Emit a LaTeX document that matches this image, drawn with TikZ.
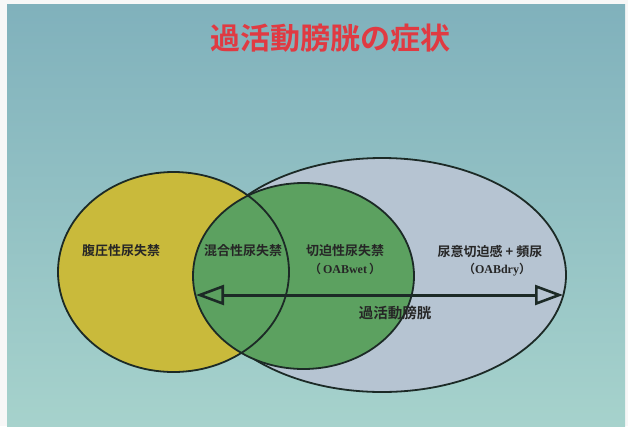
\documentclass[tikz,border=0pt]{standalone}
\usepackage{fontspec}
\setmainfont{Liberation Serif}
\newfontfamily\jp{Noto Sans CJK JP}[BoldFont={* Bold}]
\usetikzlibrary{arrows.meta}
\definecolor{bgtop}{HTML}{80B1BC}
\definecolor{bgbot}{HTML}{A6D2CC}
\definecolor{yel}{HTML}{C9BA3B}
\definecolor{grn}{HTML}{5CA160}
\definecolor{blu}{HTML}{B6C4D2}
\definecolor{outl}{HTML}{1C2A26}
\definecolor{ttl}{HTML}{E03A42}
\tikzset{
  outline/.style={draw=outl, line width=1.8pt},
  lbl/.style={font=\jp\bfseries\fontsize{13}{15}\selectfont, text=black!85, inner sep=0pt, align=center},
  oabarrow/.style={draw=outl, line width=3pt, {Triangle[open, length=28pt, width=20pt, line width=2.6pt]}-{Triangle[open, length=28pt, width=20pt, line width=2.6pt]}, shorten <=1pt, shorten >=1pt}
}
\begin{document}
\begin{tikzpicture}[x=1pt, y=-1pt]
\useasboundingbox (0,0) rectangle (628,426);
\fill[white!94!gray] (0,0) rectangle (628,426);
\shade[top color=bgtop, bottom color=bgbot] (7,4) rectangle (625,426);
% title
\node[font=\jp\bfseries\fontsize{30}{32}\selectfont, text=ttl, inner sep=0pt] (title) at (330,38) {過活動膀胱の症状};
% ellipses
\path[fill=blu, outline] (382,275) ellipse [x radius=184, y radius=117];
\fill[yel] (173.5,272) ellipse [x radius=115.5, y radius=100];
\fill[grn] (303.5,276) ellipse [x radius=110.5, y radius=93];
\draw[outline] (173.5,272) ellipse [x radius=115.5, y radius=100];
\draw[outline] (303.5,276) ellipse [x radius=110.5, y radius=93];
% labels
\node[lbl] (stress) at (121,251) {腹圧性尿失禁};
\node[lbl] (mixed) at (243,251) {混合性尿失禁};
\node[lbl] (urge) at (345,251) {切迫性尿失禁};
\node[lbl, font=\bfseries\fontsize{12}{14}\selectfont] (wet) at (345,269) {{\jp （}\,OABwet\,{\jp ）}};
\node[lbl] (dry) at (490,252) {尿意切迫感 + 頻尿};
\node[lbl, font=\bfseries\fontsize{12}{14}\selectfont] (dryb) at (497,270) {{\jp （}OABdry{\jp ）}};
\node[lbl, font=\jp\bfseries\fontsize{14.5}{16}\selectfont] (oab) at (395,313) {過活動膀胱};
% arrow
\coordinate (arrL) at (195,295);
\coordinate (arrR) at (564,295);
\draw[oabarrow] (arrL) -- (arrR);
\end{tikzpicture}
\end{document}
